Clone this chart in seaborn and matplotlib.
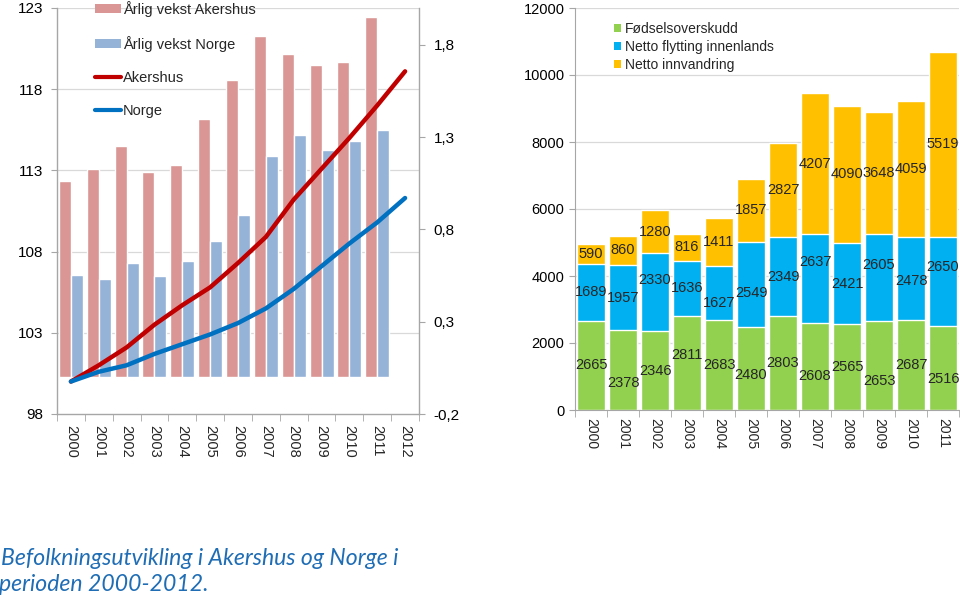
import numpy as np
import pandas as pd
import matplotlib
matplotlib.use("Agg")
import matplotlib.pyplot as plt
import seaborn as sns
from matplotlib.patches import Patch
from matplotlib.lines import Line2D

# ---------------- data ----------------
years_left = ["2000", "2001", "2002", "2003", "2004", "2005", "2006",
              "2007", "2008", "2009", "2010", "2011", "2012"]
vekst_akershus = [1.06, 1.13, 1.25, 1.11, 1.15, 1.40, 1.61, 1.85, 1.75, 1.69, 1.71, 1.95]
vekst_norge = [0.555, 0.53, 0.62, 0.55, 0.63, 0.735, 0.88, 1.20, 1.31, 1.23, 1.28, 1.34]
indeks_akershus = [100.0, 101.0, 102.1, 103.5, 104.7, 105.8, 107.3, 108.9,
                   111.2, 113.1, 115.0, 117.0, 119.1]
indeks_norge = [100.0, 100.6, 101.0, 101.7, 102.3, 102.9, 103.6, 104.5,
                105.7, 107.1, 108.5, 109.8, 111.3]
left_ticks = [98, 103, 108, 113, 118, 123]
right_ticks = [-0.2, 0.3, 0.8, 1.3, 1.8]
right_ticklabels = ["-0,2", "0,3", "0,8", "1,3", "1,8"]

years_right = ["2000", "2001", "2002", "2003", "2004", "2005",
               "2006", "2007", "2008", "2009", "2010", "2011"]
fodselsoverskudd = [2665, 2378, 2346, 2811, 2683, 2480, 2803, 2608, 2565, 2653, 2687, 2516]
flytting_innenlands = [1689, 1957, 2330, 1636, 1627, 2549, 2349, 2637, 2421, 2605, 2478, 2650]
innvandring = [590, 860, 1280, 816, 1411, 1857, 2827, 4207, 4090, 3648, 4059, 5519]
right_yticks = [0, 2000, 4000, 6000, 8000, 10000, 12000]

# label offsets (points, positive = down) imitating Excel's staggering
green_label_shift = [0, 9, 0, -6, 0, 5, 0, 7, 0, 11, 0, 8]
blue_label_shift = [0, 0, -9, 0, 7, 6, 0, -12, 0, -9, 2, -10]

# ---------------- style ----------------
sns.set_style("white")
plt.rcParams["font.family"] = ["Liberation Sans", "DejaVu Sans"]
PINK = "#D99694"
LBLUE = "#95B3D7"
RED = "#C00000"
DBLUE = "#0070C0"
GREEN = "#92D050"
CYAN = "#00B0F0"
ORANGE = "#FFC000"
SPINE = "#A6A6A6"
GRID = "#D9D9D9"

fig = plt.figure(figsize=(9.6, 6.02), dpi=100)
W, H = 960, 602

# ================= LEFT CHART =================
axB = fig.add_axes([57 / W, 1 - 414 / H, 362 / W, 406 / H])
df_bars = pd.DataFrame({
    "År": years_left[:12] * 2,
    "Serie": ["Årlig vekst Akershus"] * 12 + ["Årlig vekst Norge"] * 12,
    "Verdi": vekst_akershus + vekst_norge,
})
sns.barplot(data=df_bars, x="År", y="Verdi", hue="Serie", order=years_left,
            hue_order=["Årlig vekst Akershus", "Årlig vekst Norge"],
            palette=[PINK, LBLUE], saturation=1, width=0.86, gap=0,
            legend=False, ax=axB, zorder=2)

axL = axB.twinx()
pos = np.arange(len(years_left))
sns.lineplot(x=pos, y=indeks_akershus, ax=axL, color=RED, lw=3.2, zorder=5)
sns.lineplot(x=pos, y=indeks_norge, ax=axL, color=DBLUE, lw=3.2, zorder=5)
for ln in axL.lines:
    ln.set_solid_capstyle("round")
axL.set_ylim(98, 123)
axL.yaxis.tick_left()
axL.yaxis.set_label_position("left")
axL.set_yticks(left_ticks)
axL.set_yticklabels([str(t) for t in left_ticks])
axL.tick_params(axis="y", left=True, right=False, labelleft=True,
                labelright=False, length=4, color=SPINE,
                labelsize=11, pad=6, labelcolor="black")
for s in axL.spines.values():
    s.set_visible(False)
axL.set_ylabel("")

axB.set_ylim(-0.2, 2.0)
axB.yaxis.tick_right()
axB.set_yticks(right_ticks)
axB.set_yticklabels(right_ticklabels)
grid_levels = [-0.2 + (v - 98) * 2.2 / 25 for v in left_ticks[1:]]
axB.set_yticks(grid_levels, minor=True)
axB.grid(which="minor", axis="y", color=GRID, lw=0.9, zorder=0)
axB.set_axisbelow(True)
axB.set_xlabel("")
axB.set_ylabel("")
for s in ["left", "right", "bottom"]:
    axB.spines[s].set_color(SPINE)
    axB.spines[s].set_linewidth(1.0)
axB.spines["top"].set_visible(False)
axB.tick_params(axis="y", which="major", right=True, left=False,
                labelright=True, labelleft=False, length=4,
                color=SPINE, labelsize=11, pad=6.5, labelcolor="black")
axB.tick_params(axis="y", which="minor", length=0, left=False, right=False)

axB.set_xlim(-0.5, len(years_left) - 0.5)
axB.set_xticks(pos)
axB.set_xticklabels(years_left, rotation=270, fontsize=10.5)
axB.set_xticks(np.arange(-0.5, len(years_left)), minor=True)
axB.tick_params(axis="x", which="major", length=0, pad=8)
axB.tick_params(axis="x", which="minor", length=5, color=SPINE, bottom=True)

handles = [Patch(facecolor=PINK, edgecolor="none"),
           Patch(facecolor=LBLUE, edgecolor="none"),
           Line2D([], [], color=RED, lw=3),
           Line2D([], [], color=DBLUE, lw=3)]
labels = ["Årlig vekst Akershus", "Årlig vekst Norge", "Akershus", "Norge"]
fig.legend(handles, labels, loc="upper left",
           bbox_to_anchor=(95 / W, 1 - 1 / H), frameon=False,
           fontsize=10.5, handlelength=1.8, handleheight=0.55,
           handletextpad=0.1, labelspacing=1.3, borderpad=0,
           borderaxespad=0)

# ================= RIGHT CHART =================
axR = fig.add_axes([575 / W, 1 - 410 / H, 384 / W, 402 / H])
c1 = np.array(fodselsoverskudd)
c2 = c1 + np.array(flytting_innenlands)
c3 = c2 + np.array(innvandring)
for vals, col in [(c3, ORANGE), (c2, CYAN), (c1, GREEN)]:
    sns.barplot(x=years_right, y=vals, order=years_right, color=col,
                saturation=1, width=0.86, ax=axR, zorder=2)
axR.set_ylim(0, 12000)
axR.set_xlim(-0.5, len(years_right) - 0.5)
axR.set_yticks(right_yticks)
axR.set_yticklabels([str(t) for t in right_yticks])
axR.grid(axis="y", color=GRID, lw=0.9, zorder=0)
axR.set_axisbelow(True)
axR.set_xlabel("")
axR.set_ylabel("")
for s in ["top", "right"]:
    axR.spines[s].set_visible(False)
for s in ["left", "bottom"]:
    axR.spines[s].set_color(SPINE)
axR.tick_params(axis="y", left=True, length=4, color=SPINE, labelsize=10.5,
                pad=3.5, labelcolor="black")
xr = np.arange(len(years_right))
axR.set_xticks(xr)
axR.set_xticklabels(years_right, rotation=270, fontsize=10)
axR.set_xticks(np.arange(-0.5, len(years_right)), minor=True)
axR.tick_params(axis="x", which="major", length=0, pad=6)
axR.tick_params(axis="x", which="minor", length=5, color=SPINE, bottom=True)

# data labels
for i in range(len(years_right)):
    axR.annotate(str(fodselsoverskudd[i]), (xr[i], c1[i] / 2),
                 xytext=(0, -green_label_shift[i]), textcoords="offset points",
                 ha="center", va="center", fontsize=10.5, zorder=6)
    axR.annotate(str(flytting_innenlands[i]), (xr[i], (c1[i] + c2[i]) / 2),
                 xytext=(0, -blue_label_shift[i]), textcoords="offset points",
                 ha="center", va="center", fontsize=10.5, zorder=6)
    axR.annotate(str(innvandring[i]), (xr[i], (c2[i] + c3[i]) / 2),
                 ha="center", va="center", fontsize=10.5, zorder=6)

rhandles = [Patch(facecolor=GREEN, edgecolor="none"),
            Patch(facecolor=CYAN, edgecolor="none"),
            Patch(facecolor=ORANGE, edgecolor="none")]
rlabels = ["Fødselsoverskudd", "Netto flytting innenlands", "Netto innvandring"]
fig.legend(rhandles, rlabels, loc="upper left",
           bbox_to_anchor=(614 / W, 1 - 22 / H), frameon=False, fontsize=10,
           handlelength=0.5, handleheight=0.5, handletextpad=0.3,
           labelspacing=0.3, borderpad=0, borderaxespad=0)

# caption (two lines)
cap_kw = dict(family=["Lato", "Open Sans", "DejaVu Sans"], style="italic",
              fontsize=16.6, color="#1F6DB5", ha="left", va="baseline")
fig.text(1 / W, 1 - 565 / H, "Befolkningsutvikling i Akershus og Norge i", **cap_kw)
fig.text(-1 / W, 1 - 591 / H, "perioden 2000-2012.", **cap_kw)

fig.savefig("out.png", dpi=100)
